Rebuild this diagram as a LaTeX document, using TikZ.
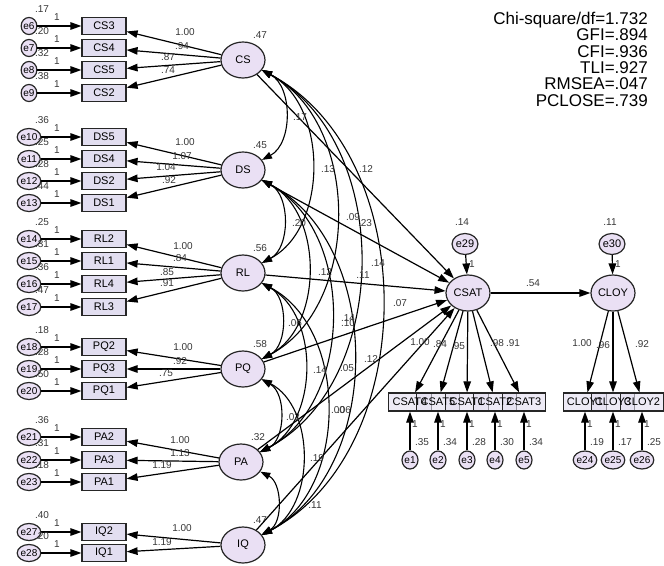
\documentclass[tikz,border=0pt]{standalone}
\usepackage{fontspec}
\setmainfont{Liberation Sans}
\usetikzlibrary{arrows.meta,shapes.geometric}
\definecolor{boxfill}{RGB}{226,222,240}
\definecolor{latfill}{RGB}{234,224,244}
\definecolor{lblc}{RGB}{55,55,55}
\begin{document}
\begin{tikzpicture}[x=1pt,y=-1pt,
 obs/.style={draw=black!85,line width=1.2pt,fill=boxfill,minimum width=44pt,minimum height=17pt,inner sep=0pt,font=\fontsize{11}{12}\selectfont},
 lat/.style={ellipse,draw=black!85,line width=1.2pt,fill=latfill,minimum width=44pt,minimum height=36pt,inner sep=0pt,font=\fontsize{11}{12}\selectfont},
 err/.style={ellipse,draw=black!85,line width=1.2pt,fill=latfill,minimum width=15pt,minimum height=17pt,inner sep=0pt,font=\fontsize{10}{10}\selectfont},
 lbl/.style={inner sep=0pt,text=lblc,font=\fontsize{10}{10}\selectfont},
 btxt/.style={inner sep=0pt,font=\fontsize{11}{12}\selectfont},
 arr/.style={-{Triangle[length=11pt,width=7.5pt]},line width=1.2pt},
 cov/.style={{Triangle[length=10pt,width=7pt]}-{Triangle[length=10pt,width=7pt]},line width=1.1pt},
]
\useasboundingbox (0,0) rectangle (664,565);
% latent factors
\node[lat] (CS) at (243,60) {CS};
\node[lat] (DS) at (243,170) {DS};
\node[lat] (RL) at (243,273) {RL};
\node[lat] (PQ) at (243,369) {PQ};
\node[lat] (PA) at (241,462) {PA};
\node[lat] (IQ) at (243,545) {IQ};
\node[lat] (CSAT) at (468,293) {CSAT};
\node[lat] (CLOY) at (613,293) {CLOY};
% factor variances
\foreach \f/\va in {CS/.47,DS/.45,RL/.56,PQ/.58,PA/.32,IQ/.47}
  \node[lbl] (var\f) at ([xshift=17pt,yshift=25pt]\f.center) {\va};
% left indicators
\foreach \f/\n/\e/\y/\va in {CS/CS3/e6/26/.17, CS/CS4/e7/48/.20, CS/CS5/e8/70/.32, CS/CS2/e9/93/.38,
  DS/DS5/e10/137/.36, DS/DS4/e11/159/.25, DS/DS2/e12/181/.28, DS/DS1/e13/203/.44,
  RL/RL2/e14/239/.25, RL/RL1/e15/261/.31, RL/RL4/e16/284/.36, RL/RL3/e17/307/.47,
  PQ/PQ2/e18/347/.18, PQ/PQ3/e19/369/.28, PQ/PQ1/e20/391/.50,
  PA/PA2/e21/437/.36, PA/PA3/e22/460/.31, PA/PA1/e23/482/.18,
  IQ/IQ2/e27/532/.40, IQ/IQ1/e28/553/.20}{
  \node[lbl] (v\e) at (42,\y-17) {\va};
  \node[obs] (\n) at (104,\y) {\n};
  \node[err] (\e) at (29,\y) {\e};
  \draw[arr] (\e) -- (\n);
  \draw[arr] (\f) -- (\n);
  \node[lbl] (o\e) at (57,\y-9) {1};
}
% loading labels (left)
\foreach \x/\y/\t [count=\i] in {185/32/1.00, 182/46/.94, 168/57/.87, 168/70/.74,
  185/142/1.00, 182/156/1.07, 166/167/1.04, 169/180/.92,
  183/246/1.00, 180/258/.84, 167/272/.85, 167/283/.91,
  183/347/1.00, 180/361/.92, 166/373/.75,
  180/440/1.00, 180/453/1.13, 162/465/1.19,
  182/528/1.00, 162/542/1.19}
  \node[lbl] (ld\i) at (\x,\y) {\t};
% covariances
\foreach \a/\b in {CS/DS,CS/RL,CS/PQ,CS/PA,CS/IQ,DS/RL,DS/PQ,DS/PA,DS/IQ,RL/PQ,RL/PA,RL/IQ,PQ/PA,PQ/IQ,PA/IQ}
  \draw[cov] (\a) to[bend left=62] (\b);
% structural paths
\foreach \a in {CS,DS,RL,PQ,PA,IQ}
  \draw[arr] (\a) -- (CSAT);
\draw[arr] (CSAT) -- (CLOY);
\node[lbl] (l54) at (533,283) {.54};
% covariance / path labels
\foreach \x/\y/\t [count=\i] in {300/117/.17, 328/169/.13, 366/169/.12, 353/217/.09, 365/223/.23,
  299/223/.20, 325/272/.12, 363/275/.11, 378/263/.14, 400/303/.07, 295/323/.06,
  348/318/.14, 348/323/.10, 320/370/.14, 347/368/.05, 371/359/.12, 293/417/.02,
  338/410/.00, 344/410/.06, 317/458/.19, 315/505/.11}
  \node[lbl] (cl\i) at (\x,\y) {\t};
% disturbances
\node[err,minimum width=18pt,minimum height=21pt,font=\fontsize{11}{11}\selectfont] (e29) at (465,244) {e29};
\node[err,minimum width=18pt,minimum height=21pt,font=\fontsize{11}{11}\selectfont] (e30) at (612,244) {e30};
\draw[arr] (e29) -- (CSAT);
\draw[arr] (e30) -- (CLOY);
\node[lbl] (v29) at (462,222) {.14};
\node[lbl] (v30) at (610,222) {.11};
\node[lbl] (o29) at (472,264) {1};
\node[lbl] (o30) at (618,264) {1};
% CSAT indicators (boxes, then texts on top)
\foreach \n/\x in {CSAT4/410, CSAT5/438, CSAT1/467, CSAT2/495, CSAT3/524, CLOY1/585, CLOY3/613, CLOY2/642}
  \node[obs,minimum width=43pt,minimum height=18pt,fill opacity=.6] (\n) at (\x,402) {};
\foreach \n/\x in {CSAT4/410, CSAT5/438, CSAT1/467, CSAT2/495, CSAT3/524, CLOY1/585, CLOY3/613, CLOY2/642}
  \node[btxt] (t\n) at (\x,402) {\n};
\foreach \f/\n/\e/\x/\va in {CSAT/CSAT4/e1/410/.35, CSAT/CSAT5/e2/438/.34, CSAT/CSAT1/e3/467/.28, CSAT/CSAT2/e4/495/.30, CSAT/CSAT3/e5/524/.34,
  CLOY/CLOY1/e24/585/.19, CLOY/CLOY3/e25/613/.17, CLOY/CLOY2/e26/642/.25}{
  \node[err,minimum width=16pt,minimum height=18pt] (\e) at (\x,460) {\e};
  \draw[arr] (\e) -- (\n);
  \draw[arr] (\f) -- (\n);
  \node[lbl] (o\e) at (\x+5,424) {1};
  \node[lbl] (v\e) at (\x+12,442) {\va};
}
\foreach \x/\y/\t [count=\i] in {420/342/1.00, 440/344/.84, 458/346/.95, 497/343/.98, 513/343/.91,
  582/343/1.00, 603/345/.96, 642/344/.92}
  \node[lbl] (rl\i) at (\x,\y) {\t};
% fit indices
\node[anchor=north east,align=right,inner sep=0pt,font=\fontsize{17}{16.3}\selectfont] (fit) at (648,12)
  {Chi-square/df=1.732\\GFI=.894\\CFI=.936\\TLI=.927\\RMSEA=.047\\PCLOSE=.739};
\end{tikzpicture}
\end{document}
